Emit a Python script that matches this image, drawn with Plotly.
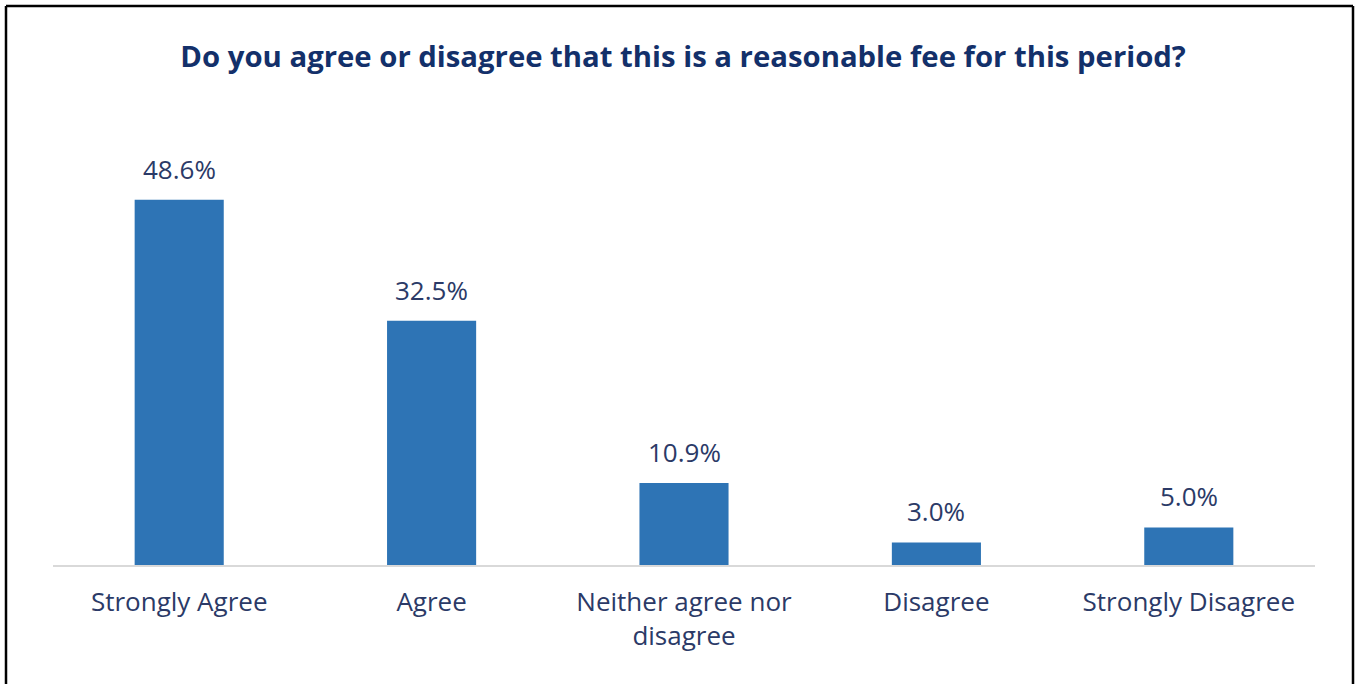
import plotly.graph_objects as go

# Survey responses
categories = ["Strongly Agree", "Agree", "Neither agree nor<br>disagree", "Disagree", "Strongly Disagree"]
shares = [48.6, 32.5, 10.9, 3.0, 5.0]
value_labels = ["48.6%", "32.5%", "10.9%", "3.0%", "5.0%"]

title_text = "Do you agree or disagree that this is a reasonable fee for this period?"

W, H = 1358, 684
ML, MR, MT, MB = 53, 43, 114, 119
PW, PH = W - ML - MR, H - MT - MB

BAR_COLOR = "#2E74B5"
TITLE_COLOR = "#13306A"
LABEL_COLOR = "#2B3A67"
FONT = "Open Sans, sans-serif"

fig = go.Figure(
    go.Bar(
        x=categories,
        y=shares,
        marker=dict(color=BAR_COLOR, line=dict(width=0)),
        hoverinfo="skip",
    )
)

for cat, val, lab in zip(categories, shares, value_labels):
    fig.add_annotation(
        x=cat, y=val, text=lab, showarrow=False,
        yanchor="bottom", yshift=11,
        font=dict(family=FONT, size=26, color=LABEL_COLOR),
    )


def px_x(p):
    return (p - ML) / PW


def px_y(p):
    return (H - MB - p) / PH


# open frame around the chart (left, top, right edges)
frame = dict(color="black", width=2.5)
fig.add_shape(type="line", xref="paper", yref="paper",
              x0=px_x(6), x1=px_x(6), y0=px_y(6), y1=px_y(720), line=frame)
fig.add_shape(type="line", xref="paper", yref="paper",
              x0=px_x(6), x1=px_x(1353), y0=px_y(6), y1=px_y(6), line=frame)
fig.add_shape(type="line", xref="paper", yref="paper",
              x0=px_x(1353), x1=px_x(1353), y0=px_y(6), y1=px_y(720), line=frame)

fig.update_layout(
    width=W, height=H,
    margin=dict(l=ML, r=MR, t=MT, b=MB),
    paper_bgcolor="white", plot_bgcolor="white",
    bargap=0.647,
    showlegend=False,
    title=dict(
        text=f"<b>{title_text}</b>",
        x=0.503, xanchor="center", y=1 - 57 / H, yanchor="middle",
        font=dict(family=FONT, size=29.3, color=TITLE_COLOR),
    ),
    xaxis=dict(
        showline=True, linecolor="#D9D9D9", linewidth=2,
        ticks="", showgrid=False, zeroline=False,
        tickfont=dict(family=FONT, size=26, color=LABEL_COLOR),
        ticklabelstandoff=13,
    ),
    yaxis=dict(
        range=[0, 60], visible=False, showgrid=False, zeroline=False,
    ),
)

fig.write_html("out.html")
